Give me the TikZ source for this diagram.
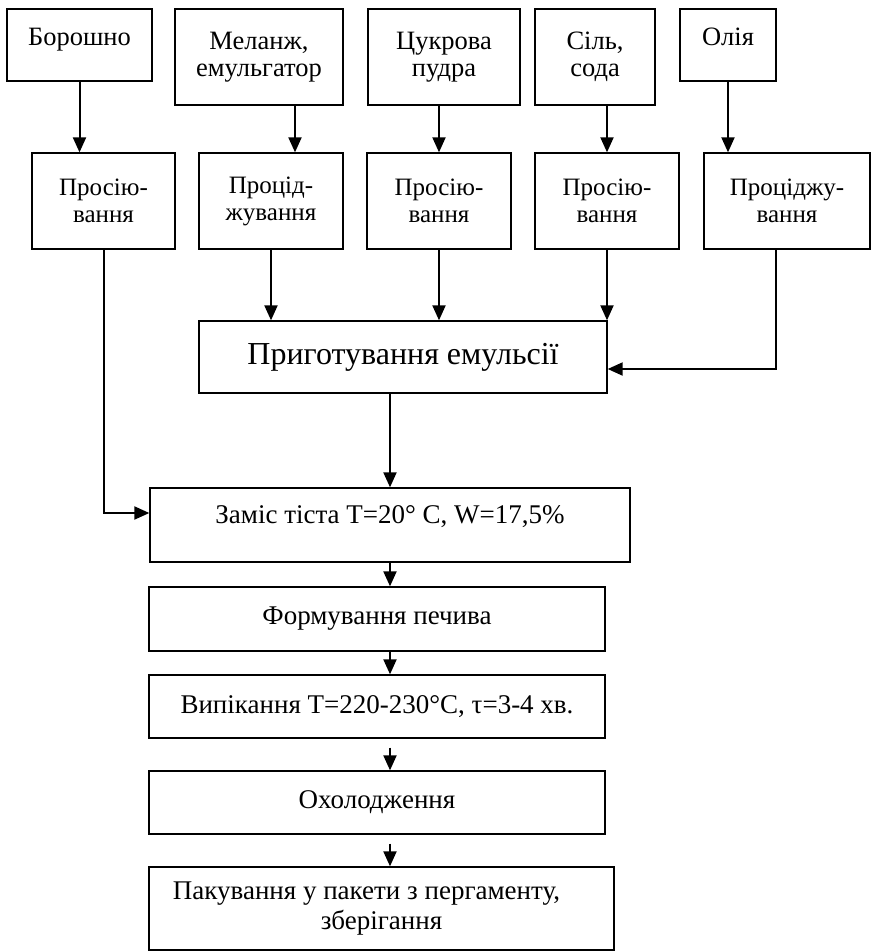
\documentclass[tikz,border=0pt]{standalone}
\usepackage{fontspec}
\setmainfont{Liberation Serif}
\usetikzlibrary{arrows.meta}

\begin{document}
\begin{tikzpicture}[x=1pt, y=-1pt, >={Triangle[length=15pt,width=13pt]},
  box/.style={rectangle, draw, line width=1.3pt, inner sep=0pt, align=center},
  small/.style={box, font=\fontsize{26.5}{27}\selectfont},
  middle/.style={box, font=\fontsize{25}{27}\selectfont},
  step box/.style={box, font=\fontsize{27}{30}\selectfont},
  flow/.style={->, line width=2pt}]
\useasboundingbox (0,0) rectangle (872,952);

\node[small, minimum width=145pt, minimum height=72pt, text depth=16pt] (flour) at (79.5,45) {Борошно};
\node[small, minimum width=168pt, minimum height=96pt] (melange) at (259,57) {Меланж,\\емульгатор};
\node[small, minimum width=152pt, minimum height=96pt] (sugar) at (444,57) {Цукрова\\пудра};
\node[small, minimum width=120pt, minimum height=96pt] (salt) at (595,57) {Сіль,\\сода};
\node[small, minimum width=96pt, minimum height=72pt, text depth=16pt] (oil) at (728,45) {Олія};

\node[middle, minimum width=143pt, minimum height=96pt] (sift1) at (103.5,201) {Просію-\\вання};
\node[middle, minimum width=144pt, minimum height=96pt] (strain1) at (271,201) {Процід-\\жування};
\node[middle, minimum width=144pt, minimum height=96pt] (sift2) at (439,201) {Просію-\\вання};
\node[middle, minimum width=144pt, minimum height=96pt] (sift3) at (607,201) {Просію-\\вання};
\node[middle, minimum width=166pt, minimum height=96pt] (strain2) at (787,201) {Проціджу-\\вання};

\node[box, font=\fontsize{32}{36}\selectfont, minimum width=408pt, minimum height=72pt] (emulsion) at (403,357) {Приготування емульсії};

\node[step box, minimum width=480pt, minimum height=74pt, text depth=20pt] (kneading) at (390,525) {Заміс тіста Т=20° С, W=17,5\%};
\node[step box, minimum width=456pt, minimum height=64pt] (forming) at (377,619) {Формування печива};
\node[step box, minimum width=456pt, minimum height=63pt] (baking) at (377,706.5) {Випікання Т=220-230°С, τ=3-4 хв.};
\node[step box, minimum width=456pt, minimum height=63pt] (cooling) at (377,802.5) {Охолодження};
\node[step box, minimum width=465pt, minimum height=83pt] (packing) at (381.5,908.5) {Пакування у пакети з пергаменту,\hspace*{30pt}\\зберігання};

\draw[flow] (flour) -- (flour |- sift1.north);
\draw[flow] ([xshift=36pt]melange.south) -- ([xshift=36pt]melange.south |- strain1.north);
\draw[flow] (sift2 |- sugar.south) -- (sift2);
\draw[flow] (sift3 |- salt.south) -- (sift3);
\draw[flow] (oil) -- (oil |- strain2.north);

\draw[flow] (strain1) -- (strain1 |- emulsion.north);
\draw[flow] (sift2) -- (sift2 |- emulsion.north);
\draw[flow] (sift3) -- (sift3 |- emulsion.north);
\draw[flow] ([xshift=-11pt]strain2.south) |- ([yshift=-12pt]emulsion.east);

\draw[flow] (kneading |- emulsion.south) -- (kneading);
\draw[flow] (sift1) |- ([yshift=12pt]kneading.west);

\draw[flow] (kneading) -- (kneading |- forming.north);
\draw[flow] (kneading |- forming.south) -- (kneading |- baking.north);
\draw[flow, shorten <=9pt] (kneading |- baking.south) -- (kneading |- cooling.north);
\draw[flow, shorten <=9pt] (kneading |- cooling.south) -- (kneading |- packing.north);
\end{tikzpicture}
\end{document}
